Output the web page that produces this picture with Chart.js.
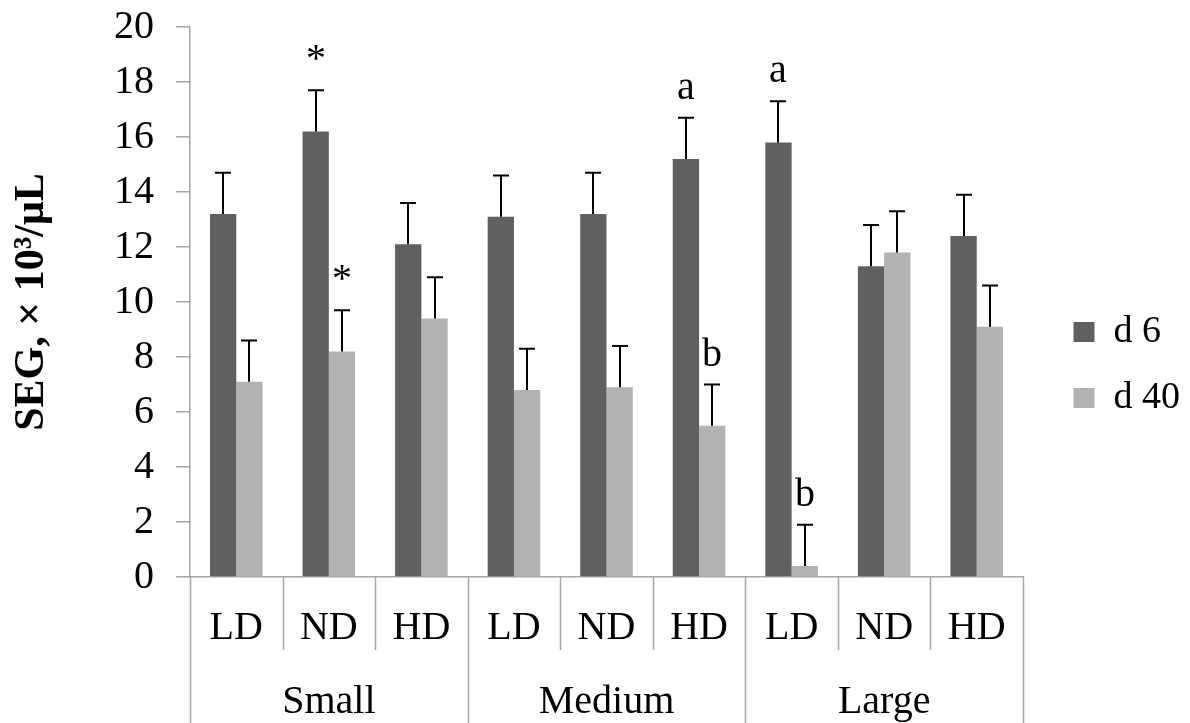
<!DOCTYPE html>
<html>
<head>
<meta charset="utf-8">
<script src="https://cdn.jsdelivr.net/npm/chart.js@4"></script>
<style>
  html, body { margin: 0; padding: 0; background: #fff; }
  #wrap { width: 1190px; height: 723px; }
</style>
</head>
<body>
<div id="wrap"><canvas id="chart"></canvas></div>
<script>
const categories = ['LD', 'ND', 'HD', 'LD', 'ND', 'HD', 'LD', 'ND', 'HD'];
const groups = ['Small', 'Medium', 'Large'];
const d6 = [13.2, 16.2, 12.1, 13.1, 13.2, 15.2, 15.8, 11.3, 12.4];
const d40 = [7.1, 8.2, 9.4, 6.8, 6.9, 5.5, 0.4, 11.8, 9.1];
const err6 = [1.5, 1.5, 1.5, 1.5, 1.5, 1.5, 1.5, 1.5, 1.5];
const err40 = [1.5, 1.5, 1.5, 1.5, 1.5, 1.5, 1.5, 1.5, 1.5];
const marks6 = ['', '*', '', '', '', 'a', 'a', '', ''];
const marks40 = ['', '*', '', '', '', 'b', 'b', '', ''];
const yTicks = [0, 2, 4, 6, 8, 10, 12, 14, 16, 18, 20];

const FONT = '"Liberation Serif", "Times New Roman", serif';
const AXIS_GREY = '#a6a6a6';

// error bars, letters and the two-level category axis
const extras = {
  id: 'extras',
  afterDatasetsDraw(chart) {
    const ctx = chart.ctx;
    const y = chart.scales.y;
    const errs = [err6, err40];
    const marks = [marks6, marks40];
    ctx.save();
    chart.data.datasets.forEach((ds, di) => {
      const meta = chart.getDatasetMeta(di);
      meta.data.forEach((bar, i) => {
        const top = y.getPixelForValue(ds.data[i] + errs[di][i]);
        const bx = Math.round(bar.x);
        ctx.strokeStyle = '#000';
        ctx.lineWidth = 2;
        ctx.beginPath();
        ctx.moveTo(bx, bar.y);
        ctx.lineTo(bx, top);
        ctx.moveTo(bx - 8, top);
        ctx.lineTo(bx + 8, top);
        ctx.stroke();
        if (marks[di][i]) {
          ctx.fillStyle = '#000';
          ctx.font = '40px ' + FONT;
          ctx.textAlign = 'center';
          ctx.textBaseline = 'alphabetic';
          ctx.fillText(marks[di][i], bx, top - 19);
        }
      });
    });
    ctx.restore();
  },
  afterDraw(chart) {
    const ctx = chart.ctx;
    const x = chart.scales.x;
    const area = chart.chartArea;
    const bottom = chart.height;
    const half = (x.getPixelForValue(1) - x.getPixelForValue(0)) / 2;
    ctx.save();
    ctx.strokeStyle = AXIS_GREY;
    ctx.lineWidth = 1.5;
    for (let i = 0; i <= categories.length; i++) {
      const px = Math.round(x.getPixelForValue(i) - half) + 0.5;
      ctx.beginPath();
      ctx.moveTo(px, area.bottom);
      ctx.lineTo(px, i % 3 === 0 ? bottom : area.bottom + 73);
      ctx.stroke();
    }
    ctx.fillStyle = '#000';
    ctx.font = '40px ' + FONT;
    ctx.textAlign = 'center';
    ctx.textBaseline = 'middle';
    groups.forEach((g, gi) => {
      const cx = x.getPixelForValue(gi * 3 + 1);
      ctx.fillText(g, cx, area.bottom + 125);
    });
    ctx.restore();
  }
};

const ctx = document.getElementById('chart').getContext('2d');
new Chart(ctx, {
  type: 'bar',
  data: {
    labels: categories,
    datasets: [{
      label: 'd 6',
      data: d6,
      backgroundColor: '#606060',
      categoryPercentage: 0.568,
      barPercentage: 1.0
    }, {
      label: 'd 40',
      data: d40,
      backgroundColor: '#b2b2b2',
      categoryPercentage: 0.568,
      barPercentage: 1.0
    }]
  },
  plugins: [extras],
  options: {
    responsive: true,
    maintainAspectRatio: false,
    animation: false,
    layout: { padding: 0 },
    plugins: {
      tooltip: { enabled: false },
      legend: {
        position: 'right',
        title: { display: true, text: '', font: { size: 5 }, padding: 0.5 },
        labels: {
          boxWidth: 21,
          boxHeight: 20,
          padding: 28,
          color: '#000',
          font: { family: FONT, size: 38 }
        }
      }
    },
    scales: {
      x: {
        grid: { display: false, drawTicks: false },
        border: { color: AXIS_GREY, width: 1.5 },
        ticks: { color: '#000', font: { family: FONT, size: 40 }, padding: 27, maxRotation: 0, autoSkip: false },
        afterFit: (s) => { s.height = 146; }
      },
      y: {
        min: 0,
        max: 20,
        afterBuildTicks: (s) => { s.ticks = yTicks.map(v => ({ value: v })); },
        grid: { drawOnChartArea: false, tickLength: 14, color: AXIS_GREY, lineWidth: 1.5 },
        border: { color: AXIS_GREY, width: 1.5 },
        ticks: { color: '#000', font: { family: FONT, size: 40 }, padding: 22 },
        title: {
          display: true,
          text: 'SEG, × 10³/μL',
          color: '#000',
          font: { family: FONT, size: 42, weight: 'bold' },
          padding: { top: 7, bottom: 0 }
        },
        afterFit: (s) => { s.width = 190; s.paddingTop = 27; s.paddingBottom = 0; }
      },
      spacer: {
        type: 'linear',
        position: 'right',
        display: true,
        grid: { display: false },
        border: { display: false },
        ticks: { display: false },
        afterFit: (s) => { s.width = 22.5; }
      }
    }
  }
});
</script>
</body>
</html>
